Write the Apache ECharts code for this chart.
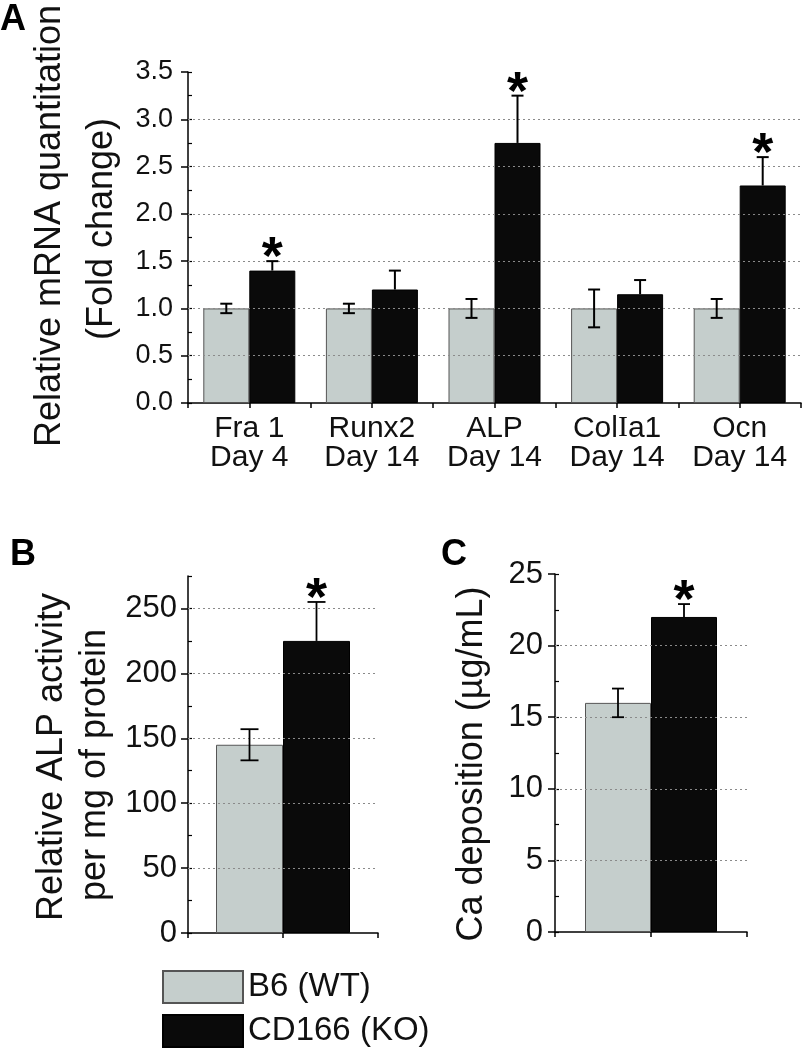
<!DOCTYPE html>
<html>
<head>
<meta charset="utf-8">
<script src="https://cdn.jsdelivr.net/npm/echarts@6/dist/echarts.min.js"></script>
<style>
html, body { margin: 0; padding: 0; background: #fff; }
#chart { width: 803px; height: 1050px; }
</style>
</head>
<body>
<div id="chart"></div>
<script>
// panel A: relative mRNA (fold change)
var genes = ['Fra 1', 'Runx2', 'ALP', 'ColIa1', 'Ocn'];
var days = ['Day 4', 'Day 14', 'Day 14', 'Day 14', 'Day 14'];
var wtMrna = [1.0, 1.0, 1.0, 1.0, 1.0];
var wtMrnaErr = [0.05, 0.05, 0.1, 0.2, 0.1];
var koMrna = [1.4, 1.2, 2.75, 1.15, 2.3];
var koMrnaErr = [0.1, 0.2, 0.5, 0.15, 0.3];
var mrnaSig = [1, 0, 1, 0, 1];
// panel B: ALP activity, [WT, KO]
var alpActivity = [145, 225];
var alpErr = [12, 30];
// panel C: Ca deposition, [WT, KO]
var caDeposit = [16, 22];
var caErr = [1, 0.9];
var groupNames = ['B6 (WT)', 'CD166 (KO)'];

var GRAY = '#c5cecc';
var BLACK = '#0a0a0a';
var FONT = '"Liberation Sans", Arial, sans-serif';

var chart = echarts.init(document.getElementById('chart'));

function gridLineSeries(idx, vals) {
  return {
    type: 'line', xAxisIndex: idx * 2, yAxisIndex: idx * 2, data: [], z: 1, silent: true,
    markLine: {
      symbol: ['none', 'none'], silent: true, label: { show: false },
      lineStyle: { color: '#8a8a8a', type: [2, 3], width: 1 },
      data: vals.map(function (v) { return { yAxis: v }; })
    }
  };
}

function ticks(step, last) {
  var out = [];
  for (var v = step; v <= last + 1e-9; v += step) out.push(+v.toFixed(3));
  return out;
}

// error bars (+ stars) drawn through the axes
function errorSeries(idx, data, barW, cap, lw) {
  return {
    type: 'custom', xAxisIndex: idx * 2, yAxisIndex: idx * 2, z: 5, silent: true,
    data: data,
    renderItem: function (params, api) {
      var cat = api.value(0), mean = api.value(1), err = api.value(2);
      var side = api.value(3), both = api.value(4), sig = api.value(5);
      var base = api.coord([cat, mean]);
      var x = base[0] + (side ? barW / 2 : -barW / 2);
      var top = api.coord([cat, mean + err])[1];
      var bot = both ? api.coord([cat, mean - err])[1] : base[1];
      var ls = { stroke: '#000', lineWidth: lw };
      var kids = [
        { type: 'line', shape: { x1: x, y1: top, x2: x, y2: bot }, style: ls },
        { type: 'line', shape: { x1: x - cap, y1: top, x2: x + cap, y2: top }, style: ls }
      ];
      if (both) kids.push({ type: 'line', shape: { x1: x - cap, y1: bot, x2: x + cap, y2: bot }, style: ls });
      if (sig) kids.push({
        type: 'text',
        style: { text: '*', x: x, y: top - 2, font: 'bold 54px ' + FONT, fill: '#000', align: 'center', verticalAlign: 'middle' }
      });
      return { type: 'group', children: kids };
    }
  };
}

var errA = [];
genes.forEach(function (g, i) {
  errA.push([i, wtMrna[i], wtMrnaErr[i], 0, 1, 0]);
  errA.push([i, koMrna[i], koMrnaErr[i], 1, 0, mrnaSig[i]]);
});
var errB = [[0, alpActivity[0], alpErr[0], 0, 1, 0], [0, alpActivity[1], alpErr[1], 1, 0, 1]];
var errC = [[0, caDeposit[0], caErr[0], 0, 1, 0], [0, caDeposit[1], caErr[1], 1, 0, 1]];

var axisLine = { show: true, lineStyle: { color: '#000', width: 1.5 } };

function catAxis(idx, cats, label) {
  return {
    type: 'category', gridIndex: idx, data: cats, position: 'bottom',
    axisLine: axisLine, axisTick: { show: false },
    axisLabel: label || { show: false }
  };
}
function tickAxis(idx, n) {
  return {
    type: 'value', gridIndex: idx, min: 0, max: n, interval: 1, position: 'bottom',
    axisLine: { show: false }, axisLabel: { show: false }, splitLine: { show: false },
    axisTick: { show: true, length: 5, lineStyle: { color: '#000', width: 1.5 } }
  };
}
function mainY(idx, max, step, fs, margin, fmt, hideMax) {
  return {
    type: 'value', gridIndex: idx, min: 0, max: max, interval: step, position: 'left',
    axisLine: axisLine, splitLine: { show: false },
    axisTick: { show: true, length: 7, lineStyle: { color: '#000', width: 1.5 } },
    axisLabel: { fontSize: fs, fontFamily: FONT, color: '#111', margin: margin, formatter: fmt, showMaxLabel: !hideMax }
  };
}
function minorY(idx, max, step) {
  return {
    type: 'value', gridIndex: idx, min: 0, max: max, interval: step, position: 'left',
    axisLine: { show: false }, axisLabel: { show: false }, splitLine: { show: false },
    axisTick: { show: true, inside: true, length: 4, lineStyle: { color: '#000', width: 1.2 } }
  };
}

function bar(idx, name, data, w, color, border) {
  return {
    type: 'bar', name: name, xAxisIndex: idx * 2, yAxisIndex: idx * 2, data: data,
    barWidth: w, barGap: '0%', z: 2,
    itemStyle: { color: color, borderColor: border, borderWidth: 1 }
  };
}

var titleFont = '36px ' + FONT;
function vtext(x, y, txt) {
  return { type: 'text', x: x, y: y, rotation: Math.PI / 2,
    style: { text: txt, font: titleFont, fill: '#111', align: 'center', verticalAlign: 'middle' } };
}
function letter(x, y, txt) {
  return { type: 'text', x: x, y: y, style: { text: txt, font: 'bold 36px ' + FONT, fill: '#000' } };
}
function legendItem(name, top) {
  return {
    data: [name], left: 162, top: top, padding: 0,
    itemWidth: 80, itemHeight: 32, icon: 'rect',
    textStyle: { fontSize: 33, fontFamily: FONT, color: '#111' }
  };
}

var option = {
  animation: false,
  backgroundColor: '#fff',
  grid: [
    { left: 188, top: 72, width: 613, height: 331 },
    { left: 188, top: 576, width: 190, height: 357 },
    { left: 555, top: 574, width: 192, height: 358 }
  ],
  xAxis: [
    catAxis(0, genes, {
      interval: 0, fontSize: 30, fontFamily: FONT, color: '#111', margin: 11, lineHeight: 29,
      formatter: function (v, i) { return v.replace('I', '{s|I}') + '\n' + days[i]; },
      rich: { s: { fontFamily: '"Liberation Serif", serif', fontSize: 30, lineHeight: 29, color: '#111' } }
    }),
    tickAxis(0, 10),
    catAxis(1, ['ALP']),
    tickAxis(1, 2),
    catAxis(2, ['Ca']),
    tickAxis(2, 2)
  ],
  yAxis: [
    mainY(0, 3.5, 0.5, 27, 15, function (v) { return v.toFixed(1); }),
    minorY(0, 3.5, 0.25),
    mainY(1, 275, 50, 31, 11, null, true),
    minorY(1, 275, 25),
    mainY(2, 25, 5, 31, 12, null),
    minorY(2, 25, 2.5)
  ],
  legend: [
    legendItem(groupNames[0], 970),
    legendItem(groupNames[1], 1014)
  ],
  graphic: [
    letter(0, 2, 'A'), letter(10, 537, 'B'), letter(441, 537, 'C'),
    vtext(50, 226, 'Relative mRNA quantitation'),
    vtext(102, 229, '(Fold change)'),
    vtext(52, 757, 'Relative ALP activity'),
    vtext(95, 765, 'per mg of protein'),
    vtext(472, 764, 'Ca deposition (\u00b5g/mL)')
  ],
  series: [
    gridLineSeries(0, ticks(0.5, 3.0)),
    gridLineSeries(1, ticks(50, 250)),
    gridLineSeries(2, ticks(5, 20)),
    bar(0, groupNames[0], wtMrna, 46, GRAY, '#555'),
    bar(0, groupNames[1], koMrna, 46, BLACK, '#000'),
    bar(1, groupNames[0], [alpActivity[0]], 67, GRAY, '#555'),
    bar(1, groupNames[1], [alpActivity[1]], 67, BLACK, '#000'),
    bar(2, groupNames[0], [caDeposit[0]], 66, GRAY, '#555'),
    bar(2, groupNames[1], [caDeposit[1]], 66, BLACK, '#000'),
    errorSeries(0, errA, 46, 6, 2),
    errorSeries(1, errB, 67, 9, 1.8),
    errorSeries(2, errC, 66, 6, 1.8)
  ]
};
chart.setOption(option);
</script>
</body>
</html>
